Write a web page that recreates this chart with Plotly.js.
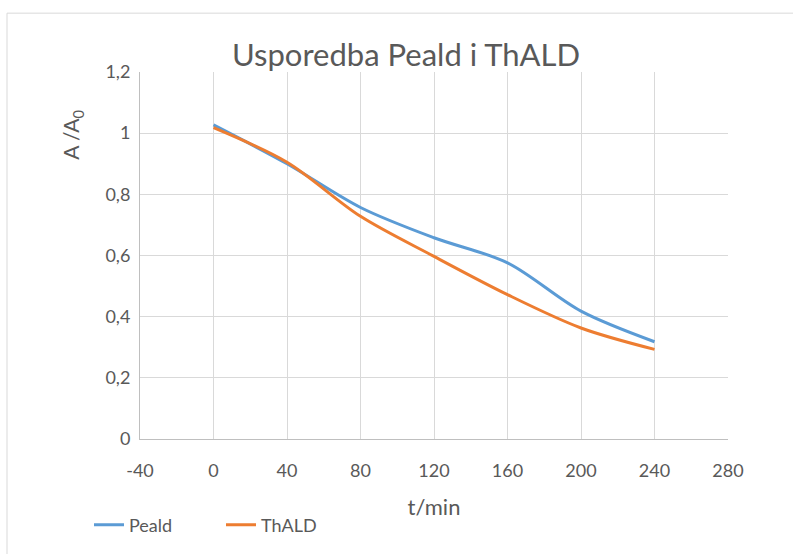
<!DOCTYPE html>
<html>
<head>
<meta charset="utf-8">
<script src="https://cdn.plot.ly/plotly-3.0.1.min.js"></script>
<style>
  html, body { margin: 0; padding: 0; background: #ffffff; }
  #chart { width: 793px; height: 554px; }
</style>
</head>
<body>
<div id="chart"></div>
<script>
// Data
const time = [0, 40, 80, 120, 160, 200, 240];
const peald = [1.027, 0.900, 0.757, 0.658, 0.576, 0.418, 0.318];
const thald = [1.018, 0.905, 0.728, 0.597, 0.472, 0.363, 0.293];
const seriesNames = ['Peald', 'ThALD'];
const xTickVals = [-40, 0, 40, 80, 120, 160, 200, 240, 280];
const xTickText = ['-40', '0', '40', '80', '120', '160', '200', '240', '280'];
const chartTitle = 'Usporedba Peald i ThALD';
const xTitle = 't/min';
const yTitle = 'A /A<sub>0</sub>';

const FONT = 'Lato, "Open Sans", sans-serif';
const GRAY = '#595959';

const traces = [
  {
    x: time, y: peald, name: seriesNames[0], type: 'scatter', mode: 'lines',
    line: { color: '#5B9BD5', width: 3, shape: 'spline', smoothing: 0.9 }
  },
  {
    x: time, y: thald, name: seriesNames[1], type: 'scatter', mode: 'lines',
    line: { color: '#ED7D31', width: 3, shape: 'spline', smoothing: 0.9 }
  }
];

const layout = {
  width: 793, height: 554,
  margin: { l: 140, r: 65, t: 72, b: 114 },
  paper_bgcolor: '#ffffff',
  plot_bgcolor: '#ffffff',
  separators: ', ',
  font: { family: FONT, color: GRAY, size: 18 },
  title: {
    text: chartTitle,
    font: { family: FONT, size: 31, color: GRAY },
    x: (406 - 140) / 588, xref: 'paper', xanchor: 'center',
    y: 1 - 55 / 554, yref: 'container', yanchor: 'middle',
    automargin: false
  },
  xaxis: {
    range: [-40, 280], tickmode: 'array', tickvals: xTickVals, ticktext: xTickText,
    showgrid: true, gridcolor: '#d9d9d9', gridwidth: 1,
    zeroline: false, showline: true, linecolor: '#bfbfbf', linewidth: 1,
    ticks: '', ticklabelstandoff: 15,
    tickfont: { family: FONT, size: 18, color: GRAY },
    title: { text: xTitle, font: { family: FONT, size: 22, color: GRAY }, standoff: 20 },
    fixedrange: true
  },
  yaxis: {
    range: [0, 1.2], dtick: 0.2, tick0: 0,
    showgrid: true, gridcolor: '#d9d9d9', gridwidth: 1,
    zeroline: false, showline: true, linecolor: '#bfbfbf', linewidth: 1,
    ticks: '', ticklabelstandoff: 5,
    tickfont: { family: FONT, size: 18, color: GRAY },
    fixedrange: true
  },
  showlegend: true,
  legend: {
    orientation: 'h',
    x: (89 - 140) / 588, xanchor: 'left',
    y: (440 - 525) / 368, yanchor: 'middle',
    font: { family: FONT, size: 18, color: GRAY },
    bgcolor: 'rgba(0,0,0,0)',
    itemwidth: 30,
    entrywidth: 87,
    tracegroupgap: 0
  },
  annotations: [
    {
      text: yTitle, textangle: -90,
      xref: 'paper', yref: 'paper',
      x: (72 - 140) / 588, y: (440 - 135) / 368,
      xanchor: 'center', yanchor: 'middle',
      showarrow: false,
      font: { family: FONT, size: 21, color: GRAY }
    }
  ],
  shapes: [
    {
      type: 'rect', xref: 'paper', yref: 'paper',
      x0: (7 - 140) / 588, x1: 1.3, y0: -0.6, y1: (440 - 13) / 368,
      line: { color: '#d9d9d9', width: 1 }, fillcolor: 'rgba(0,0,0,0)',
      layer: 'below'
    }
  ]
};

Plotly.newPlot('chart', traces, layout, { displayModeBar: false, staticPlot: true });
</script>
</body>
</html>
